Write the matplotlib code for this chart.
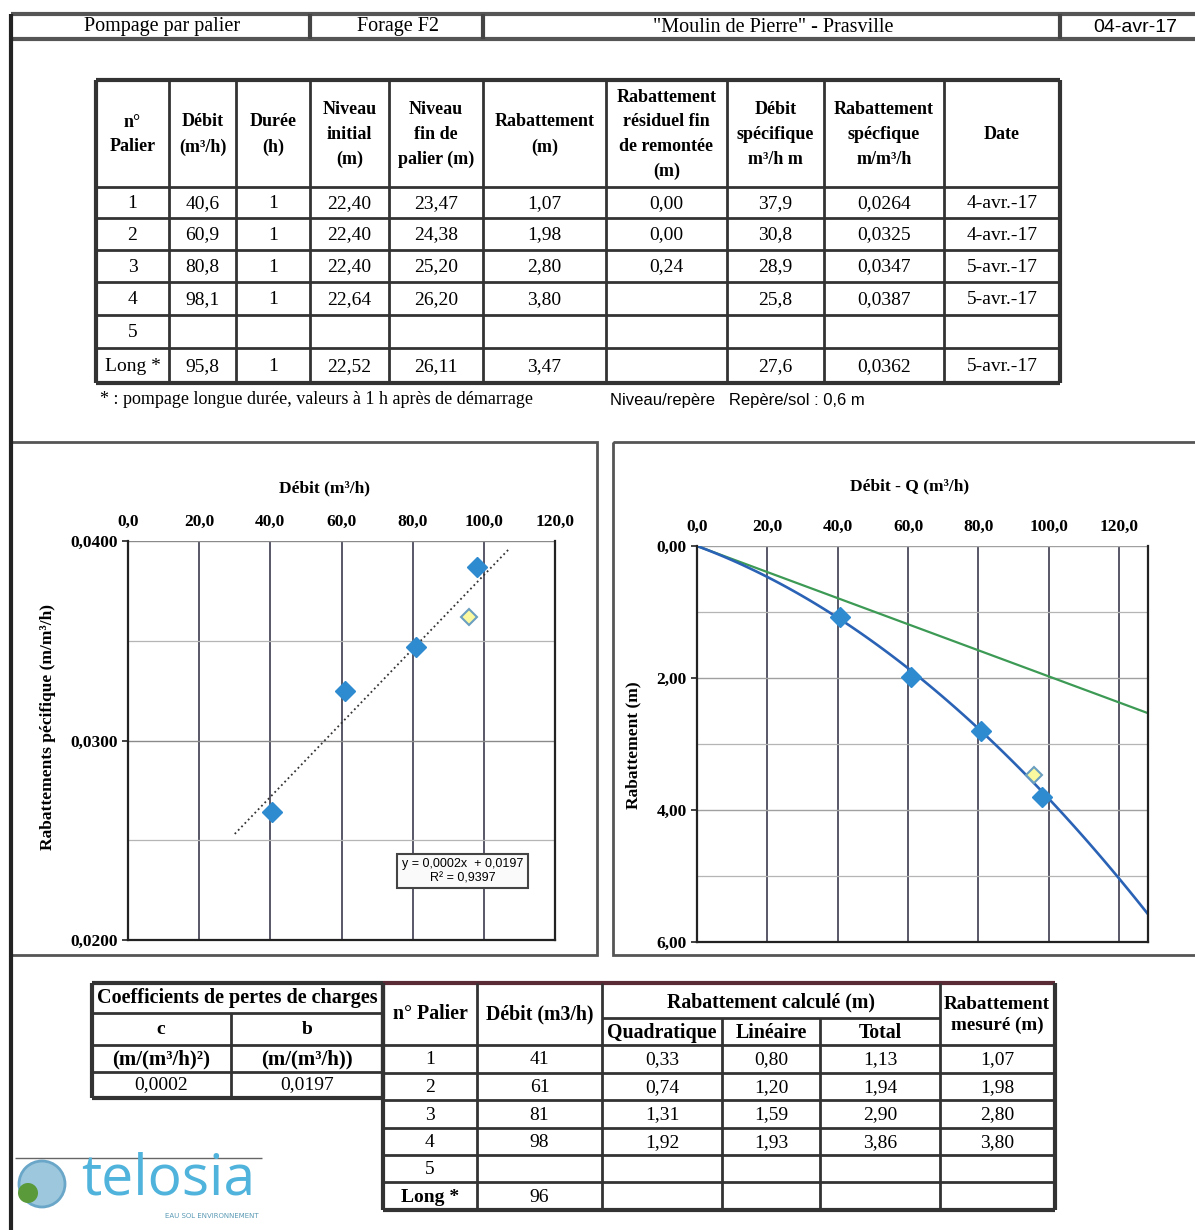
import numpy as np
import matplotlib
matplotlib.use('Agg')
import matplotlib.pyplot as plt
from matplotlib.patches import Rectangle, Circle
from matplotlib.ticker import MultipleLocator, FuncFormatter

# ---- data ----
paliers = ['1', '2', '3', '4', '5', 'Long *']
debit = [40.6, 60.9, 80.8, 98.1, None, 95.8]
duree = [1, 1, 1, 1, None, 1]
niv_init = [22.40, 22.40, 22.40, 22.64, None, 22.52]
niv_fin = [23.47, 24.38, 25.20, 26.20, None, 26.11]
rabat = [1.07, 1.98, 2.80, 3.80, None, 3.47]
rab_resid = [0.00, 0.00, 0.24, None, None, None]
debit_spec = [37.9, 30.8, 28.9, 25.8, None, 27.6]
rab_spec = [0.0264, 0.0325, 0.0347, 0.0387, None, 0.0362]
dates = ['4-avr.-17', '4-avr.-17', '5-avr.-17', '5-avr.-17', '', '5-avr.-17']

coef_c = '0,0002'
coef_b = '0,0197'
debit_round = [41, 61, 81, 98, None, 96]
quadratique = [0.33, 0.74, 1.31, 1.92, None, None]
lineaire = [0.80, 1.20, 1.59, 1.93, None, None]
total = [1.13, 1.94, 2.90, 3.86, None, None]
rab_mesure = [1.07, 1.98, 2.80, 3.80, None, None]

eq_text = 'y = 0,0002x  + 0,0197\nR² = 0,9397'

SERIF = 'Liberation Serif'
NARROW = ['Liberation Sans Narrow', 'Liberation Sans']
BLUE = '#2f8bd0'
LINE = '#333333'


def fmt(v, d):
    if v is None:
        return ''
    return f"{v:.{d}f}".replace('.', ',')


fig = plt.figure(figsize=(11.95, 12.30), dpi=100)
bg = fig.add_axes([0, 0, 1, 1])
bg.set_xlim(0, 1195)
bg.set_ylim(1230, 0)
bg.axis('off')


def hl(y, x0, x1, lw=2, c=LINE):
    bg.plot([x0, x1], [y, y], color=c, lw=lw, solid_capstyle='butt')


def vl(x, y0, y1, lw=2, c=LINE):
    bg.plot([x, x], [y0, y1], color=c, lw=lw, solid_capstyle='butt')


def txt(x, y, s, size=13, weight='normal', family=SERIF, **kw):
    bg.text(x, y, s, fontsize=size, fontweight=weight, family=family,
            ha=kw.pop('ha', 'center'), va=kw.pop('va', 'center'), **kw)


# ---- header bar ----
hl(14, 11, 1195, lw=3, c='#555555')
hl(39, 11, 1195, lw=3, c='#555555')
for x in [310, 483, 1060]:
    vl(x, 14, 39, lw=3, c='#444444')
vl(11, 14, 1230, lw=3, c='#222222')
txt(162, 27, 'Pompage par palier', size=14.5)
txt(398, 27, 'Forage F2', size=14.5)
txt(773, 28, '"Moulin de Pierre" - Prasville', size=14.5)
txt(1135, 27, '04-avr-17', size=14, family=NARROW)

# ---- top table ----
cols = [96, 169, 236, 310, 389, 483, 606, 727, 824, 944, 1060]
rows = [80, 187, 218, 250, 282, 315, 348, 383]
for y in rows:
    lw = 3 if y in (80, 383) else 2
    hl(y, cols[0], cols[-1], lw=lw)
for x in cols:
    lw = 3 if x in (96, 1060) else 2
    vl(x, rows[0], rows[-1], lw=lw)

headers = ['n°\nPalier', 'Débit\n(m³/h)', 'Durée\n(h)', 'Niveau\ninitial\n(m)',
           'Niveau\nfin de\npalier (m)', 'Rabattement\n(m)',
           'Rabattement\nrésiduel fin\nde remontée\n(m)',
           'Débit\nspécifique\nm³/h m', 'Rabattement\nspécfique\nm/m³/h', 'Date']
for i, h in enumerate(headers):
    cx = (cols[i] + cols[i + 1]) / 2
    txt(cx, (rows[0] + rows[1]) / 2 + 1, h, size=13, weight='bold', linespacing=1.6)

columns = [paliers,
           [fmt(v, 1) for v in debit],
           ['' if v is None else str(v) for v in duree],
           [fmt(v, 2) for v in niv_init],
           [fmt(v, 2) for v in niv_fin],
           [fmt(v, 2) for v in rabat],
           [fmt(v, 2) for v in rab_resid],
           [fmt(v, 1) for v in debit_spec],
           [fmt(v, 4) for v in rab_spec],
           dates]
for i, col in enumerate(columns):
    cx = (cols[i] + cols[i + 1]) / 2
    for j, s in enumerate(col):
        cy = (rows[j + 1] + rows[j + 2]) / 2 + 1
        txt(cx, cy, s, size=14)

txt(100, 400, '* : pompage longue durée, valeurs à 1 h après de démarrage', size=13, ha='left')
txt(610, 400, 'Niveau/repère   Repère/sol : 0,6 m', size=12, ha='left', family=NARROW)

# ---- chart frames ----
bg.add_patch(Rectangle((10, 442), 587, 513, fill=False, ec='#555555', lw=2))
bg.add_patch(Rectangle((613, 442), 600, 513, fill=False, ec='#555555', lw=2))

q_pts = [d for d in debit[:4]]
spec_pts = [r for r in rab_spec[:4]]
rab_pts = [r for r in rabat[:4]]
q_all = q_pts + [debit[5]]
spec_all = spec_pts + [rab_spec[5]]
c_fit, b_fit = np.polyfit(q_all, spec_all, 1)


def comma(dec):
    return FuncFormatter(lambda v, p: f"{v:.{dec}f}".replace('.', ','))


def style_axes(ax):
    ax.set_facecolor('white')
    ax.xaxis.tick_top()
    ax.spines['top'].set_visible(False)
    for s in ['left', 'right', 'bottom']:
        ax.spines[s].set_color('#222222')
        ax.spines[s].set_linewidth(1.6)
    ax.tick_params(axis='x', length=0, pad=8)
    ax.tick_params(axis='y', which='major', length=4, width=1.2, color='#222222')
    ax.tick_params(axis='y', which='minor', length=0)
    for lab in ax.get_xticklabels() + ax.get_yticklabels():
        lab.set_family(SERIF)
        lab.set_fontweight('bold')
        lab.set_fontsize(12.5)
    ax.xaxis.set_major_locator(MultipleLocator(20))
    ax.xaxis.set_major_formatter(comma(1))
    ax.grid(axis='x', which='major', color='#2a2a40', lw=1.1)
    ax.grid(axis='y', which='major', color='#8a8a8a', lw=1.0)
    ax.grid(axis='y', which='minor', color='#b5b5b5', lw=0.9)
    ax.set_axisbelow(True)


# ---- left chart ----
ax1 = fig.add_axes([128 / 1195, 1 - 940 / 1230, 427 / 1195, 399 / 1230])
ax1.set_xlim(0, 120)
ax1.set_ylim(0.02, 0.04)
ax1.yaxis.set_major_locator(MultipleLocator(0.01))
ax1.yaxis.set_minor_locator(MultipleLocator(0.005))
ax1.yaxis.set_major_formatter(comma(4))
style_axes(ax1)
tx = np.array([30.0, 107.0])
ax1.plot(tx, c_fit * tx + b_fit, ls=':', color='#333333', lw=1.3)
ax1.plot(q_pts, spec_pts, ls='none', marker='D', ms=10, color=BLUE, mec=BLUE)
ax1.plot([debit[5]], [rab_spec[5]], ls='none', marker='D', ms=8.5, mfc='#fbf9a0',
         mec='#6a9fc0', mew=1.5)
ax1.text(94, 0.02345, eq_text, ha='center', va='center', fontsize=9, family=NARROW,
         linespacing=1.2,
         bbox=dict(boxstyle='square,pad=0.35', fc='#fafafa', ec='#444444', lw=1.5))
txt(325, 488, 'Débit (m³/h)', size=12.5, weight='bold')
txt(48, 727, 'Rabattements pécifique (m/m³/h)', size=12.5, weight='bold', rotation=90)

# ---- right chart ----
ax2 = fig.add_axes([697 / 1195, 1 - 942 / 1230, 451 / 1195, 396 / 1230])
ax2.set_xlim(0, 128.2)
ax2.set_ylim(6, 0)
ax2.yaxis.set_major_locator(MultipleLocator(2))
ax2.yaxis.set_minor_locator(MultipleLocator(1))
ax2.yaxis.set_major_formatter(comma(2))
style_axes(ax2)
ax2.grid(axis='y', which='major', color='#a0a0a0', lw=1.0)
qq = np.linspace(0, 128, 100)
ax2.plot(qq, b_fit * qq, color='#3c9a55', lw=1.6)
ax2.plot(qq, c_fit * qq ** 2 + b_fit * qq, color='#2a62b5', lw=1.9)
ax2.plot(q_pts, rab_pts, ls='none', marker='D', ms=10, color=BLUE, mec=BLUE)
ax2.plot([debit[5]], [rabat[5]], ls='none', marker='D', ms=8.5, mfc='#fbf9a0',
         mec='#6a9fc0', mew=1.5)
txt(910, 486, 'Débit - Q (m³/h)', size=12.5, weight='bold')
txt(633, 745, 'Rabattement (m)', size=12.5, weight='bold', rotation=90)

# ---- bottom left table: coefficients ----
ccols = [92, 231, 383]
crows = [983, 1013, 1045, 1072, 1098]
for y in crows:
    hl(y, ccols[0], ccols[-1], lw=3 if y in (983, 1098) else 2)
vl(92, 983, 1098, lw=3)
vl(383, 983, 1098, lw=3)
vl(231, 1013, 1098)
txt(237, 998, 'Coefficients de pertes de charges', size=14.5, weight='bold')
txt(161, 1030, 'c', size=14, weight='bold')
txt(307, 1030, 'b', size=14, weight='bold')
txt(161, 1059, '(m/(m³/h)²)', size=15, weight='bold')
txt(307, 1059, '(m/(m³/h))', size=15, weight='bold')
txt(161, 1085, coef_c, size=14)
txt(307, 1085, coef_b, size=14)

# ---- bottom right table ----
bcols = [383, 477, 602, 722, 820, 940, 1055]
brows = [983, 1045, 1073, 1100, 1128, 1155, 1182, 1210]
hl(983, 383, 1055, lw=3, c='#5a2a35')
for y in brows[1:]:
    hl(y, 383, 1055, lw=3 if y == 1210 else 2)
hl(1018, 602, 940)
for x in [383, 477, 602, 940, 1055]:
    vl(x, 983, 1210, lw=3 if x in (383, 1055) else 2)
for x in [722, 820]:
    vl(x, 1018, 1210)
txt(430, 1014, 'n° Palier', size=14.3, weight='bold')
txt(540, 1014, 'Débit (m3/h)', size=14.3, weight='bold')
txt(771, 1002, 'Rabattement calculé (m)', size=14.3, weight='bold')
txt(662, 1033, 'Quadratique', size=14.3, weight='bold')
txt(771, 1033, 'Linéaire', size=14.3, weight='bold')
txt(880, 1033, 'Total', size=14.3, weight='bold')
txt(997, 1015, 'Rabattement\nmesuré (m)', size=13.8, weight='bold', linespacing=1.34)
bcolumns = [paliers,
            ['' if v is None else str(v) for v in debit_round],
            [fmt(v, 2) for v in quadratique],
            [fmt(v, 2) for v in lineaire],
            [fmt(v, 2) for v in total],
            [fmt(v, 2) for v in rab_mesure]]
for i, col in enumerate(bcolumns):
    cx = (bcols[i] + bcols[i + 1]) / 2
    for j, s in enumerate(col):
        cy = (brows[j + 1] + brows[j + 2]) / 2 + 1
        w = 'bold' if s == 'Long *' else 'normal'
        txt(cx, cy, s, size=14, weight=w)

# ---- logo ----
hl(1158, 15, 262, lw=1, c='#666666')
bg.add_patch(Circle((42, 1184), 23, fc='#9cc7dd', ec='#6aa6c8', lw=2))
bg.add_patch(Circle((28, 1193), 10, fc='#5a9a3a', ec='none'))
txt(168, 1180, 'telosia', size=41, family='Open Sans', color='#4fb3dc')
txt(212, 1216, 'EAU SOL ENVIRONNEMENT', size=5, family='DejaVu Sans', color='#5a9ab5')

fig.savefig('out.png', dpi=100, facecolor='white')
